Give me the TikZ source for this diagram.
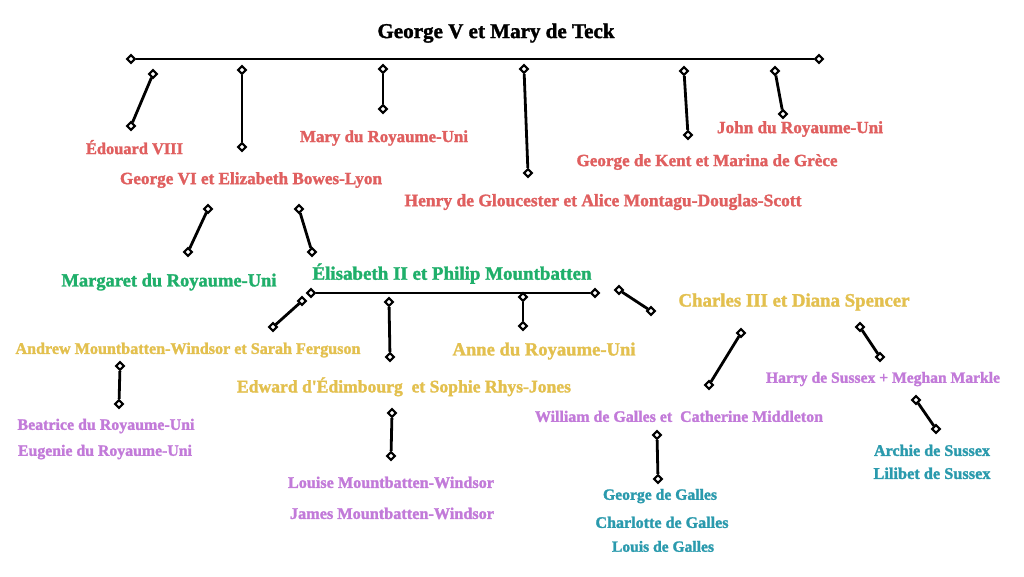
\documentclass[tikz,border=0pt]{standalone}
\usepackage{fontspec}
\setmainfont{Liberation Serif}[BoldFeatures={FakeBold=1.6}]
\usetikzlibrary{shapes.geometric}
\definecolor{cred}{HTML}{E05F5F}
\definecolor{cgreen}{HTML}{1FAF6A}
\definecolor{cyel}{HTML}{E3C04E}
\definecolor{cpur}{HTML}{C27AD9}
\definecolor{cteal}{HTML}{2A9AAD}
\newcommand\fitw[2]{\resizebox{#1pt}{!}{\strut #2}}
\tikzset{
  dia/.style={draw=black, diamond, minimum size=8.5pt, inner sep=0pt, line width=2.1pt, fill=white},
  link/.style={line width=2.8pt, black},
  lbl/.style={inner sep=0pt, font=\bfseries},
}
\begin{document}
\begin{tikzpicture}[x=1pt,y=-1pt]
\useasboundingbox[fill=white] (0,0) rectangle (1024,576);

% ---- generation 1 ----
\node[lbl, text=black] (gv) at (496,33) {\fitw{237}{George V et Mary de Teck}};
\node[dia] (t1) at (131,59) {};
\node[dia] (t2) at (819,59) {};
\draw[link] (t1) -- (t2);

\node[dia] (e1) at (153,74) {};   \node[dia] (e2) at (131,126) {};
\node[dia] (g1) at (242,70) {};   \node[dia] (g2) at (242,147) {};
\node[dia] (m1) at (383,69) {};   \node[dia] (m2) at (383,109) {};
\node[dia] (h1) at (524,69) {};   \node[dia] (h2) at (528,173) {};
\node[dia] (k1) at (684,71) {};   \node[dia] (k2) at (688,135) {};
\node[dia] (j1) at (775,71) {};   \node[dia] (j2) at (783,114) {};
\foreach \a/\b in {e1/e2,g1/g2,m1/m2,h1/h2,k1/k2,j1/j2}{\draw[link] (\a) -- (\b);}

\node[lbl, text=cred] (edw) at (134.5,150) {\fitw{97}{Édouard VIII}};
\node[lbl, text=cred] (g6) at (251,180) {\fitw{262}{George VI et Elizabeth Bowes-Lyon}};
\node[lbl, text=cred] (mary) at (384,138) {\fitw{168}{Mary du Royaume-Uni}};
\node[lbl, text=cred] (henry) at (603,202) {\fitw{397}{Henry de Gloucester et Alice Montagu-Douglas-Scott}};
\node[lbl, text=cred] (kent) at (707,162) {\fitw{261}{George de Kent et Marina de Grèce}};
\node[lbl, text=cred] (john) at (800,129) {\fitw{166}{John du Royaume-Uni}};

% ---- generation 2 ----
\node[dia] (a1) at (208,209) {};  \node[dia] (a2) at (188,252) {};
\node[dia] (b1) at (299,209) {};  \node[dia] (b2) at (312,252) {};
\draw[link] (a1) -- (a2);
\draw[link] (b1) -- (b2);

\node[lbl, text=cgreen] (marg) at (169,282) {\fitw{215}{Margaret du Royaume-Uni}};
\node[lbl, text=cgreen] (eliz) at (452,275) {\fitw{279}{Élisabeth II et Philip Mountbatten}};

\node[dia] (l1) at (311,293) {};
\node[dia] (l2) at (595,293) {};
\draw[link] (l1) -- (l2);

% ---- generation 3 ----
\node[dia] (an1) at (302,301) {}; \node[dia] (an2) at (273,327) {};
\node[dia] (ed1) at (389,302) {}; \node[dia] (ed2) at (390,357) {};
\node[dia] (ann1) at (523,297) {}; \node[dia] (ann2) at (523,326) {};
\node[dia] (ch1) at (619,290) {}; \node[dia] (ch2) at (651,311) {};
\foreach \a/\b in {an1/an2,ed1/ed2,ann1/ann2,ch1/ch2}{\draw[link] (\a) -- (\b);}

\node[lbl, text=cyel] (andrew) at (188,350) {\fitw{345}{Andrew Mountbatten-Windsor et Sarah Ferguson}};
\node[lbl, text=cyel] (anne) at (544,351) {\fitw{183}{Anne du Royaume-Uni}};
\node[lbl, text=cyel] (edward) at (404,388) {\fitw{334}{Edward d\textquotesingle Édimbourg\ \ et Sophie Rhys-Jones}};
\node[lbl, text=cyel] (charles) at (794,302) {\fitw{231}{Charles III et Diana Spencer}};

% ---- generation 4 ----
\node[dia] (bc1) at (120,366) {}; \node[dia] (bc2) at (119,404) {};
\node[dia] (lc1) at (392,413) {}; \node[dia] (lc2) at (391,456) {};
\node[dia] (w1) at (741,333) {}; \node[dia] (w2) at (709,385) {};
\node[dia] (hr1) at (860,327) {}; \node[dia] (hr2) at (880,357) {};
\foreach \a/\b in {bc1/bc2,lc1/lc2,w1/w2,hr1/hr2}{\draw[link] (\a) -- (\b);}

\node[lbl, text=cpur] (bea) at (106,426) {\fitw{177}{Beatrice du Royaume-Uni}};
\node[lbl, text=cpur] (eug) at (105,452) {\fitw{174}{Eugenie du Royaume-Uni}};
\node[lbl, text=cpur] (lou) at (391,484) {\fitw{206}{Louise Mountbatten-Windsor}};
\node[lbl, text=cpur] (jam) at (392,515) {\fitw{204}{James Mountbatten-Windsor}};
\node[lbl, text=cpur] (will) at (679,418) {\fitw{288}{William de Galles et\ \ Catherine Middleton}};
\node[lbl, text=cpur] (harry) at (883,379) {\fitw{234}{Harry de Sussex + Meghan Markle}};

% ---- generation 5 ----
\node[dia] (wc1) at (657,435) {}; \node[dia] (wc2) at (658,479) {};
\node[dia] (hc1) at (916,400) {}; \node[dia] (hc2) at (936,429) {};
\draw[link] (wc1) -- (wc2);
\draw[link] (hc1) -- (hc2);

\node[lbl, text=cteal] (geo) at (660,496) {\fitw{114}{George de Galles}};
\node[lbl, text=cteal] (cha) at (662,524) {\fitw{133}{Charlotte de Galles}};
\node[lbl, text=cteal] (louis) at (663,548) {\fitw{102}{Louis de Galles}};
\node[lbl, text=cteal] (arc) at (932,452) {\fitw{116}{Archie de Sussex}};
\node[lbl, text=cteal] (lil) at (932,475) {\fitw{117}{Lilibet de Sussex}};
\end{tikzpicture}
\end{document}
